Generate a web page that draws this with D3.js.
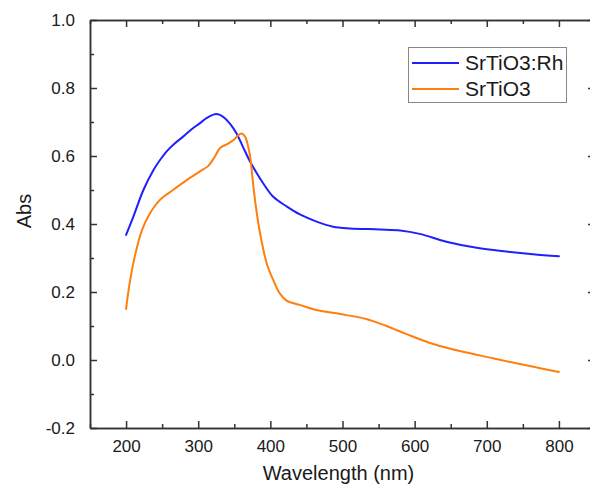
<!DOCTYPE html>
<html>
<head>
<meta charset="utf-8">
<script src="https://cdn.jsdelivr.net/npm/d3@7"></script>
<style>
  html, body { margin: 0; padding: 0; background: #fff; }
  svg { display: block; font-family: "Liberation Sans", Arial, sans-serif; }
</style>
</head>
<body>
<svg id="chart" width="590" height="488"></svg>
<script>
// ---- data ----
const seriesNames = ["SrTiO3:Rh", "SrTiO3"];
const seriesColors = ["#1f1fff", "#ff7f0e"];

const rhWavelength = [200, 210, 224, 238, 247, 256, 267, 279, 290, 302, 312, 323, 330, 337, 345, 353, 362, 372, 381, 390, 404, 423, 441, 464, 487, 510, 552, 580, 607, 644, 686, 727, 764, 800];
const rhAbs        = [0.368, 0.421, 0.500, 0.559, 0.588, 0.613, 0.636, 0.657, 0.677, 0.696, 0.712, 0.723, 0.721, 0.711, 0.692, 0.667, 0.627, 0.583, 0.550, 0.520, 0.480, 0.451, 0.428, 0.407, 0.392, 0.387, 0.384, 0.381, 0.371, 0.348, 0.330, 0.319, 0.311, 0.305];

const stoWavelength = [200, 205, 212, 222, 233, 247, 265, 284, 302, 314, 323, 330, 342, 349, 355, 360, 365, 369, 372, 376, 380, 386, 395, 404, 413, 423, 441, 464, 497, 534, 561, 589, 626, 667, 709, 746, 774, 800];
const stoAbs        = [0.150, 0.226, 0.304, 0.382, 0.431, 0.471, 0.500, 0.529, 0.554, 0.571, 0.598, 0.623, 0.637, 0.647, 0.660, 0.666, 0.657, 0.630, 0.598, 0.520, 0.450, 0.370, 0.284, 0.235, 0.196, 0.174, 0.162, 0.147, 0.135, 0.120, 0.100, 0.076, 0.047, 0.024, 0.005, -0.012, -0.024, -0.035];

const xTicks = [200, 300, 400, 500, 600, 700, 800];
const xMinorTicks = [150, 250, 350, 450, 550, 650, 750, 850];
const yTicks = [-0.2, 0.0, 0.2, 0.4, 0.6, 0.8, 1.0];
const yMinorTicks = [-0.1, 0.1, 0.3, 0.5, 0.7, 0.9];

const xLabel = "Wavelength (nm)";
const yLabel = "Abs";

// ---- layout ----
const svg = d3.select("#chart");
const L = 90, R = 595, T = 20, B = 428;
const x = d3.scaleLinear().domain([150, 850]).range([L, R]);
const y = d3.scaleLinear().domain([-0.2, 1.0]).range([B, T]);
const axisColor = "#333";

const fmtY = v => d3.format(".1f")(v).replace("\u2212", "-");

// bottom axis
svg.append("g").attr("transform", `translate(0,${B})`)
  .call(d3.axisBottom(x).tickValues(xTicks).tickSizeInner(-7).tickSizeOuter(0).tickPadding(12));
svg.append("g").attr("transform", `translate(0,${B})`)
  .call(d3.axisBottom(x).tickValues(xMinorTicks).tickSizeInner(-4).tickSizeOuter(0).tickFormat(""));
// top axis
svg.append("g").attr("transform", `translate(0,${T})`)
  .call(d3.axisTop(x).tickValues(xTicks).tickSizeInner(-7).tickSizeOuter(0).tickFormat(""));
svg.append("g").attr("transform", `translate(0,${T})`)
  .call(d3.axisTop(x).tickValues(xMinorTicks).tickSizeInner(-4).tickSizeOuter(0).tickFormat(""));
// left axis
svg.append("g").attr("transform", `translate(${L},0)`)
  .call(d3.axisLeft(y).tickValues(yTicks).tickSizeInner(-7).tickSizeOuter(0).tickPadding(15).tickFormat(fmtY));
svg.append("g").attr("transform", `translate(${L},0)`)
  .call(d3.axisLeft(y).tickValues(yMinorTicks).tickSizeInner(-4).tickSizeOuter(0).tickFormat(""));
// right axis
svg.append("g").attr("transform", `translate(${R},0)`)
  .call(d3.axisRight(y).tickValues(yTicks).tickSizeInner(-7).tickSizeOuter(0).tickFormat(""));
svg.append("g").attr("transform", `translate(${R},0)`)
  .call(d3.axisRight(y).tickValues(yMinorTicks).tickSizeInner(-4).tickSizeOuter(0).tickFormat(""));

svg.selectAll(".domain").attr("stroke", axisColor).attr("stroke-width", 1.5);
svg.selectAll(".tick line").attr("stroke", axisColor).attr("stroke-width", 1.5);
svg.selectAll(".tick text").attr("fill", "#1a1a1a").style("font-size", "17px")
  .style("font-family", "'Liberation Sans', Arial, sans-serif");

// axis titles
svg.append("text").attr("x", (x(150) + x(850)) / 2 - 4).attr("y", 480)
  .attr("text-anchor", "middle").style("font-size", "20px").attr("fill", "#1a1a1a").text(xLabel);
svg.append("text").attr("transform", `translate(31,${(T + B) / 2 - 13}) rotate(-90)`)
  .attr("text-anchor", "middle").style("font-size", "20px").attr("fill", "#1a1a1a").text(yLabel);

// lines
const series = [
  { name: seriesNames[0], color: seriesColors[0], xs: rhWavelength, ys: rhAbs },
  { name: seriesNames[1], color: seriesColors[1], xs: stoWavelength, ys: stoAbs }
];
const line = d3.line().x(d => x(d[0])).y(d => y(d[1])).curve(d3.curveCatmullRom.alpha(0.5));
series.forEach(s => {
  const pts = s.xs.map((w, i) => [w, s.ys[i]]);
  svg.append("path").datum(pts).attr("d", line)
    .attr("fill", "none").attr("stroke", s.color).attr("stroke-width", 2)
    .attr("stroke-linejoin", "round").attr("stroke-linecap", "round");
});

// legend
const lg = svg.append("g");
lg.append("rect").attr("x", 408.5).attr("y", 47.5).attr("width", 158).attr("height", 55)
  .attr("fill", "#fff").attr("stroke", "#888").attr("stroke-width", 1);
series.forEach((s, i) => {
  const yy = 63 + i * 26;
  lg.append("line").attr("x1", 412).attr("x2", 459).attr("y1", yy).attr("y2", yy)
    .attr("stroke", s.color).attr("stroke-width", 2);
  lg.append("text").attr("x", 465).attr("y", yy + 7).style("font-size", "21px")
    .attr("fill", "#1a1a1a").text(s.name);
});
</script>
</body>
</html>
